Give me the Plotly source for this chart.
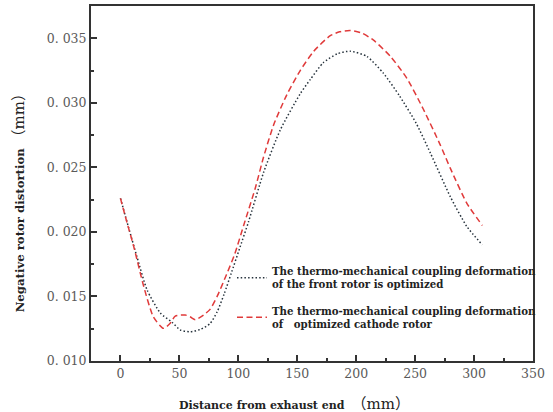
import plotly.graph_objects as go

# Data
opt_front_x = [0, 7, 14, 22.6, 34, 43.8, 50.8, 59.3, 67.8, 76, 82, 88, 94, 101, 108.7, 121.4,
               135.6, 152.5, 161, 172, 184, 195, 209, 223, 237, 251, 263, 280, 294, 307]
opt_front_y = [0.0226, 0.0203, 0.01807, 0.0155, 0.0137, 0.0130, 0.0124, 0.01227, 0.01245,
               0.0129, 0.0138, 0.0152, 0.0168, 0.0187, 0.0208, 0.0246, 0.0279, 0.0307,
               0.0318, 0.0331, 0.0338, 0.0340, 0.0336, 0.0323, 0.0305, 0.0284, 0.0261,
               0.0227, 0.0204, 0.0190]

cathode_x = [0, 5, 11.3, 19.8, 28, 36.5, 42, 46.5, 55, 59, 63.5, 70.5, 76, 82, 90, 97, 104.5,
             114.4, 121.4, 130, 141, 152.5, 164, 178, 186, 195, 205, 214.7, 229, 243, 257,
             271, 280, 294, 307]
cathode_y = [0.0226, 0.0209, 0.01885, 0.01575, 0.0134, 0.01253, 0.0129, 0.01348, 0.01356,
             0.01343, 0.0132, 0.01356, 0.0140, 0.0150, 0.0167, 0.0183, 0.0205, 0.0234,
             0.0258, 0.0283, 0.0306, 0.0325, 0.0340, 0.0352, 0.0355, 0.0356, 0.0354,
             0.03485, 0.0336, 0.0319, 0.0295, 0.0268, 0.0249, 0.0222, 0.0205]

x_tick_vals = [0, 50, 100, 150, 200, 250, 300, 350]
y_tick_vals = [0.010, 0.015, 0.020, 0.025, 0.030, 0.035]
y_tick_text = ["0. 010", "0. 015", "0. 020", "0. 025", "0. 030", "0. 035"]

name_front = "The thermo-mechanical coupling deformation<br>of the front rotor is optimized"
name_cathode = "The thermo-mechanical coupling deformation<br>of   optimized cathode rotor"
x_title = "<b>Distance from exhaust end</b>  <span style='font-size:15px'>（mm）</span>"
y_title = "<b>Negative rotor distortion</b> <span style='font-size:15px'>（mm）</span>"

SERIF = "DejaVu Serif, Liberation Serif, Noto Sans CJK SC, serif"
TICKFONT = "DejaVu Serif, Liberation Serif, serif"

fig = go.Figure()
fig.add_trace(go.Scatter(
    x=opt_front_x, y=opt_front_y, mode="lines", name=name_front, legendgroup="a",
    line=dict(color="#26323c", width=1.5, dash="1.5px,2.2px", shape="spline", smoothing=0.6),
))
fig.add_trace(go.Scatter(
    x=cathode_x, y=cathode_y, mode="lines", name=name_cathode, legendgroup="b",
    line=dict(color="#e03a3a", width=1.5, dash="6px,3.5px", shape="spline", smoothing=0.6),
))

axis_common = dict(
    showline=True, linewidth=2, linecolor="#333333", mirror=True,
    ticks="inside", ticklen=6, tickwidth=1.5, tickcolor="#333333",
    showgrid=False, zeroline=False,
    tickfont=dict(family=TICKFONT, size=12.5, color="#5a5a5a"),
)

fig.update_xaxes(
    range=[-25, 350], tickvals=x_tick_vals,
    minor=dict(ticks="inside", ticklen=3, tickwidth=1.5, tickcolor="#333333", dtick=25, tick0=0),
    **axis_common,
)
fig.update_yaxes(
    range=[0.010, 0.0375], tickvals=y_tick_vals, ticktext=y_tick_text,
    minor=dict(ticks="inside", ticklen=3, tickwidth=1.5, tickcolor="#333333", dtick=0.0025, tick0=0.010),
    **axis_common,
)

# axis titles placed as annotations (they sit off-centre in the reference)
fig.add_annotation(
    text=x_title, xref="paper", yref="paper", x=0.4615, y=-0.122,
    xanchor="center", yanchor="middle", showarrow=False,
    font=dict(family=SERIF, size=11, color="#222222"),
)
fig.add_annotation(
    text=y_title, xref="paper", yref="paper", x=-0.161, y=0.455, textangle=-90,
    xanchor="center", yanchor="middle", showarrow=False,
    font=dict(family=SERIF, size=11.7, color="#222222"),
)

fig.update_layout(
    width=553, height=412,
    margin=dict(l=91, r=20, t=6, b=51, autoexpand=False),
    paper_bgcolor="white", plot_bgcolor="white",
    showlegend=True,
    legend=dict(
        x=0.319, y=0.29, xanchor="left", yanchor="top",
        bgcolor="rgba(0,0,0,0)", borderwidth=0,
        itemwidth=30, tracegroupgap=10, traceorder="grouped",
        font=dict(family=SERIF, size=10.2, color="#222222"),
    ),
)
for tr in fig.data:
    tr.name = "<b>" + tr.name + "</b>"

fig.write_html("out.html")
